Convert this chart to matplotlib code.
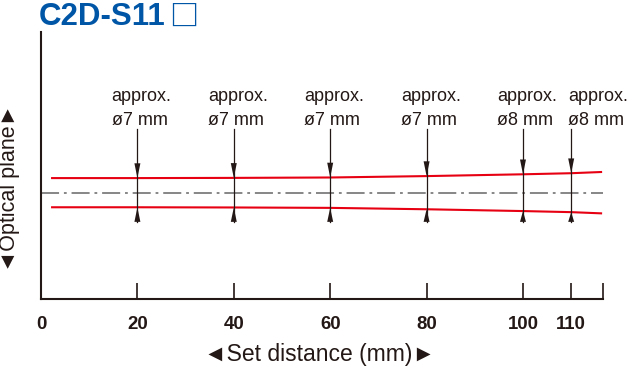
import numpy as np
import matplotlib
matplotlib.use('Agg')
import matplotlib.pyplot as plt

plt.rcParams['font.family'] = ['Liberation Sans', 'DejaVu Sans']
plt.rcParams['lines.scale_dashes'] = False

# beam edge (half width, drawing units) along set distance (mm)
dist = [2.3, 20, 40, 60, 80, 100, 110, 116.2]
half = [3.65, 3.65, 3.7, 3.8, 4.15, 4.6, 4.87, 5.17]

# spot size callouts
spot_x = [20, 40, 60, 80, 100, 110]
spot_lbl = ['ø7 mm', 'ø7 mm', 'ø7 mm', 'ø7 mm', 'ø8 mm', 'ø8 mm']

xticks = [0, 20, 40, 60, 80, 100, 110]
xmax = 116.6

red = '#e60012'
ink = '#231815'
blue = '#0056a6'

fig = plt.figure(figsize=(6.4, 3.73), dpi=100)
ax = fig.add_axes([41 / 640, 1 - 299 / 373, (603 - 41) / 640, (299 - 32) / 373])
ax.set_xlim(0, xmax)
ax.set_ylim(-26.6, 40.2)

dist = np.array(dist)
half = np.array(half)
ax.axhline(0, color='#7d7d7d', lw=1.3, dashes=(13, 3.5, 2, 3.5))
ax.plot(dist, half, color=red, lw=1.5)
ax.plot(dist, -half, color=red, lw=1.5)

# arrows pointing at the spot edges
for x in spot_x:
    h = np.interp(x, dist, half)
    ax.plot([x, x], [15.9, -7.3], color=ink, lw=0.9)
    w = 0.62
    ax.fill([x - w, x + w, x], [h + 3.7, h + 3.7, h], color=ink, lw=0)
    ax.fill([x - w, x + w, x], [-7.3, -7.3, -h], color=ink, lw=0)

tr = ax.get_xaxis_transform()
for i, x in enumerate(spot_x):
    x0 = x - 5.35 if i < len(spot_x) - 1 else x - 0.7
    ax.text(x0, 0.7416, 'approx.', transform=tr, fontsize=13, color=ink,
            ha='left', va='baseline')
    ax.text(x0, 0.6517, spot_lbl[i], transform=tr, fontsize=13, color=ink,
            ha='left', va='baseline')

for s in ['top', 'right']:
    ax.spines[s].set_visible(False)
for s in ['left', 'bottom']:
    ax.spines[s].set_color(ink)
    ax.spines[s].set_linewidth(1.5)

ax.set_yticks([])
ax.set_xticks(xticks)
ax.set_xticklabels([str(t) for t in xticks], fontsize=13.4, fontweight='bold', color=ink)
ax.set_xticks([xmax], minor=True)
ax.tick_params(axis='x', which='both', direction='in', length=11.5, width=1.2,
               color=ink, pad=12)

fig.text(0.5, 1 - 361 / 373, '◄Set distance (mm)►', fontsize=16.5, color=ink,
         ha='center', va='baseline')
fig.text(10 / 640, 1 - 188.5 / 373, '◄Optical plane►', fontsize=15.5, color=ink,
         rotation=90, ha='center', va='center')
fig.text(39 / 640, 1 - 25 / 373, 'C2D-S11', fontsize=22.5, fontweight='bold',
         color=blue, ha='left', va='baseline')
fig.text(169.5 / 640, 1 - 25.5 / 373, '□', fontsize=21,
         family=['Noto Sans CJK JP', 'DejaVu Sans'], fontweight='bold',
         color=blue, ha='left', va='baseline')

fig.savefig('out.png', dpi=100)
